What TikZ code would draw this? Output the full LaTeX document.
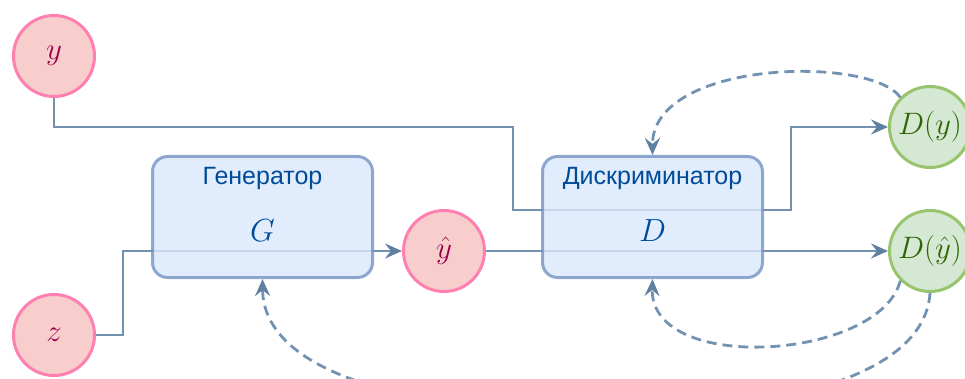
\RequirePackage{fix-cm}
\documentclass[tikz,border=0pt]{standalone}
\usepackage{fontspec}
\newfontfamily\labelfont{Liberation Sans}
\usetikzlibrary{arrows.meta}

\definecolor{wire}{HTML}{7392B2}
\definecolor{wiretip}{HTML}{5F80A3}
\definecolor{boxfill}{HTML}{DAE8FC}
\definecolor{boxline}{HTML}{6C8EBF}
\definecolor{boxtext}{HTML}{004C99}
\definecolor{pinkfill}{HTML}{F8CECC}
\definecolor{pinkline}{HTML}{FF80B0}
\definecolor{pinktext}{HTML}{99004D}
\definecolor{greenfill}{HTML}{D5E8D4}
\definecolor{greenline}{HTML}{97C46C}
\definecolor{greentext}{HTML}{2D6600}

\tikzset{
  link/.style={draw=wire, line width=2.8pt,
    -{Stealth[length=17pt,width=15pt,inset=6pt,color=wiretip]}},
  feedback/.style={link, dash pattern=on 10pt off 6pt},
  block/.style={rectangle, rounded corners=15pt,
    minimum width=220pt, minimum height=121pt, inner sep=0pt,
    fill=boxfill, draw=boxline, line width=3pt,
    fill opacity=0.8, draw opacity=0.75},
  blocktitle/.style={anchor=base, text=boxtext, inner sep=0pt,
    font=\labelfont\fontsize{25}{30}\selectfont},
  blocksym/.style={anchor=base, text=boxtext, inner sep=0pt,
    font=\fontsize{32}{38}\selectfont},
  realvar/.style={circle, minimum size=81pt, inner sep=0pt,
    fill=pinkfill, draw=pinkline, line width=3pt, text=pinktext,
    font=\fontsize{31}{37}\selectfont},
  score/.style={circle, minimum size=81pt, inner sep=0pt,
    fill=greenfill, draw=greenline, line width=3pt, text=greentext,
    font=\fontsize{31}{37}\selectfont},
}

\begin{document}
\begin{tikzpicture}[x=1pt, y=-1pt]
  \clip (0,0) rectangle (965,379);
  \fill[white] (0,0) rectangle (965,379);

  % circles for the data, the noise and the scores
  \node[realvar] (y)   at (54,56)   {$y$};
  \node[realvar] (z)   at (54,335)  {$z$};
  \node[realvar] (yh)  at (444,251) {$\hat{y}$};
  \node[score]   (Dy)  at (930,127) {$D(y)$};
  \node[score]   (Dyh) at (930,251) {$D(\hat{y})$};

  % forward connections (the blocks are laid over them)
  \draw[link] (y.south) |- (513,127) |- (791,210) |- (Dy.west);
  \draw[link] (z.east) -| (123,251) -- (yh.west);
  \draw[link] (yh.east) -- (Dyh.west);

  % generator and discriminator
  \node[block] (G) at (262.5,217) {};
  \node[block] (D) at (652.5,217) {};
  \node[blocktitle] (Gtitle) at (262.5,185) {Генератор};
  \node[blocksym]   (Gsym)   at (262.5,241) {$G$};
  \node[blocktitle] (Dtitle) at (652.5,185) {Дискриминатор};
  \node[blocksym]   (Dsym)   at (652.5,241) {$D$};

  % feedback from the scores
  \draw[feedback] (Dy.135) .. controls (870,55) and (652,60) .. (D.north);
  \draw[feedback] (Dyh.225) .. controls (880,360) and (650,375) .. (D.south);
  \coordinate (loop) at (600,412);
  \draw[feedback] (Dyh.south) .. controls (925,370) and (800,412) .. (loop)
                  .. controls (400,412) and (263,370) .. (G.south);
\end{tikzpicture}
\end{document}
